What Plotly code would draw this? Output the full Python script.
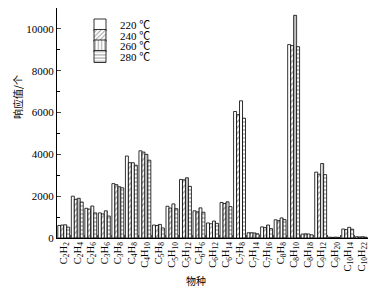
import plotly.graph_objects as go

species = ["C<sub>2</sub>H<sub>2</sub>", "C<sub>2</sub>H<sub>4</sub>", "C<sub>2</sub>H<sub>6</sub>",
           "C<sub>3</sub>H<sub>6</sub>", "C<sub>3</sub>H<sub>8</sub>", "C<sub>4</sub>H<sub>8</sub>",
           "C<sub>4</sub>H<sub>10</sub>", "C<sub>5</sub>H<sub>8</sub>", "C<sub>5</sub>H<sub>10</sub>",
           "C<sub>5</sub>H<sub>12</sub>", "C<sub>6</sub>H<sub>6</sub>", "C<sub>6</sub>H<sub>12</sub>",
           "C<sub>6</sub>H<sub>14</sub>", "C<sub>7</sub>H<sub>8</sub>", "C<sub>7</sub>H<sub>14</sub>",
           "C<sub>7</sub>H<sub>16</sub>", "C<sub>8</sub>H<sub>8</sub>", "C<sub>8</sub>H<sub>10</sub>",
           "C<sub>8</sub>H<sub>18</sub>", "C<sub>9</sub>H<sub>12</sub>", "C<sub>9</sub>H<sub>20</sub>",
           "C<sub>10</sub>H<sub>14</sub>", "C<sub>10</sub>H<sub>22</sub>"]

t220 = [600, 2000, 1420, 1200, 2600, 3920, 4170, 620, 1520, 2800, 1300, 720, 1700, 6050,
        250, 530, 870, 9250, 190, 3150, 40, 430, 60]
t240 = [620, 1850, 1380, 1150, 2550, 3600, 4110, 600, 1430, 2780, 1250, 680, 1650, 5900,
        250, 500, 830, 9200, 200, 3050, 30, 400, 50]
t260 = [630, 1900, 1530, 1300, 2450, 3600, 4000, 650, 1630, 2880, 1440, 810, 1730, 6560,
        240, 620, 960, 10650, 190, 3560, 40, 510, 60]
t280 = [520, 1720, 1200, 1050, 2400, 3480, 3720, 480, 1400, 2470, 1230, 700, 1500, 5730,
        200, 450, 880, 9150, 150, 3030, 30, 420, 40]

y_ticks = [0, 2000, 4000, 6000, 8000, 10000]

series = [("220 ℃", t220, ""), ("240 ℃", t240, "/"), ("260 ℃", t260, "|"), ("280 ℃", t280, "-")]

font_fam = "Liberation Serif, Times New Roman, Noto Sans CJK SC, serif"

# The page body has an 8px default margin, so the figure is drawn 8px right/down.
OFF = 8
W, H = 381 - OFF, 294 - OFF
# desired plot area in page pixels: x 57..368, y 8..238
PX0, PX1, PY0, PY1 = 57, 368, 8, 238
L, R = PX0 - OFF, (OFF + W) - PX1
T, B = PY0 - OFF, (OFF + H) - PY1
pw, ph = PX1 - PX0, PY1 - PY0

def px_x(x):
    return (x - PX0) / pw

def px_y(y):
    return (PY1 - y) / ph

legend_names = ["legend", "legend2", "legend3", "legend4"]
legend_centers = [25.0, 35.5, 46.0, 56.5]

fig = go.Figure()
for i, (name, vals, shape) in enumerate(series):
    fig.add_trace(go.Bar(
        x=species, y=vals, name=name, legend=legend_names[i],
        marker=dict(color="white", line=dict(color="black", width=0.8),
                    pattern=dict(shape=shape, fgcolor="#333", bgcolor="white", size=4, solidity=0.3)),
    ))

layout_legends = {}
for i, ln in enumerate(legend_names):
    layout_legends[ln] = dict(x=px_x(80), y=px_y(legend_centers[i]), xanchor="left", yanchor="middle",
                              bgcolor="rgba(0,0,0,0)", font=dict(size=11, family=font_fam),
                              itemwidth=30)

fig.update_layout(
    width=W, height=H,
    margin=dict(l=L, r=R, t=T, b=B, pad=0),
    paper_bgcolor="white", plot_bgcolor="white",
    barmode="group", bargap=0.12, bargroupgap=0.0,
    font=dict(family=font_fam, size=11, color="black"),
    showlegend=True,
    xaxis=dict(showline=True, linecolor="black", linewidth=1, ticks="inside", ticklen=3,
               tickson="boundaries", tickangle=-90, tickfont=dict(size=10.5),
               ticklabelstandoff=-1,
               showgrid=False, zeroline=False),
    yaxis=dict(range=[0, 11000], showline=True, linecolor="black", linewidth=1,
               ticks="inside", ticklen=4, tickvals=y_ticks, tickformat="d",
               minor=dict(ticks="inside", ticklen=3, dtick=1000, tickcolor="black"),
               showgrid=False, zeroline=False, tickfont=dict(size=11)),
    annotations=[
        dict(text="响应值/个", textangle=-90, x=px_x(17), y=px_y(97), xref="paper", yref="paper",
             xanchor="center", yanchor="middle",
             showarrow=False, font=dict(size=10, family="Noto Sans CJK SC")),
        dict(text="物种", x=px_x(196), y=px_y(280), xref="paper", yref="paper",
             xanchor="center", yanchor="middle",
             showarrow=False, font=dict(size=10, family="Noto Sans CJK SC")),
    ],
    **layout_legends,
)

fig.write_html("out.html")
